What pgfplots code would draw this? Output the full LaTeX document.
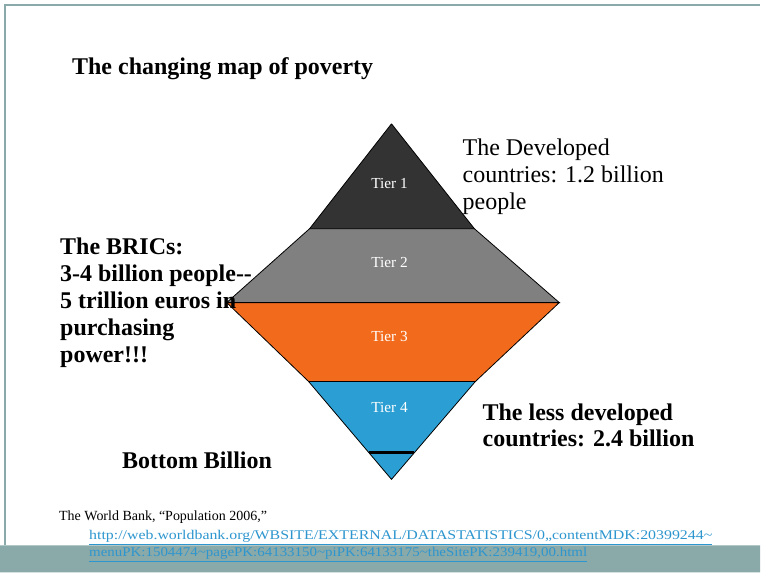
\documentclass[border=0pt]{standalone}
\usepackage{fontspec}
\setmainfont{Liberation Serif}
\usepackage{graphicx}
\usepackage{pgfplots}
\pgfplotsset{compat=1.18}
\definecolor{tierA}{HTML}{333333}
\definecolor{tierB}{HTML}{808080}
\definecolor{tierC}{HTML}{F26B1D}
\definecolor{tierD}{HTML}{2B9FD3}
\definecolor{frame}{HTML}{8AA9A9}
\definecolor{urlblue}{HTML}{2E96CF}
\begin{document}
\begin{tikzpicture}
\begin{axis}[width=570.75pt,height=429.75pt,scale only axis,
  xmin=0,xmax=761,ymin=0,ymax=573,y dir=reverse,hide axis,clip=false]
% background, frame and bottom band
\addplot[fill=white,draw=none] coordinates {(0,0)(761,0)(761,573)(0,573)(0,0)};
\addplot[fill=frame,draw=none] coordinates {(0,546)(761,546)(761,573)(0,573)(0,546)};
\addplot[draw=frame,line width=1.5pt] coordinates {(5,546)(5,5)(761,5)};
% tiers
\addplot[fill=tierA,draw=black,line width=0.6pt] coordinates {(392,124)(475,229)(310,229)(392,124)};
\addplot[fill=tierB,draw=black,line width=0.6pt] coordinates {(310,229)(475,229)(560,303)(227,303)(310,229)};
\addplot[fill=tierC,draw=black,line width=0.6pt] coordinates {(227,303)(560,303)(476,382)(309,382)(227,303)};
\addplot[fill=tierD,draw=black,line width=0.6pt] coordinates {(309,382)(476,382)(392,480)(309,382)};
\addplot[black,line width=2.2pt] coordinates {(369,453)(415,453)};
% tier labels
\node[white,font=\fontsize{11.5}{13}\selectfont] at (axis cs:390,184) {Tier 1};
\node[white,font=\fontsize{11.5}{13}\selectfont] at (axis cs:390,263) {Tier 2};
\node[white,font=\fontsize{11.5}{13}\selectfont] at (axis cs:390,337) {Tier 3};
\node[white,font=\fontsize{11.5}{13}\selectfont] at (axis cs:390,408) {Tier 4};
% title
\node[anchor=base west,inner sep=0pt,font=\fontsize{18}{22}\selectfont\bfseries] at (axis cs:72,75) {The changing map of poverty};
% developed
\node[anchor=base west,inner sep=0pt,font=\fontsize{18}{22}\selectfont] at (axis cs:463,156) {The Developed};
\node[anchor=base west,inner sep=0pt,font=\fontsize{18}{22}\selectfont] at (axis cs:463,183) {countries: 1.2 billion};
\node[anchor=base west,inner sep=0pt,font=\fontsize{18}{22}\selectfont] at (axis cs:463,210) {people};
% BRICs
\node[anchor=base west,inner sep=0pt,font=\fontsize{18}{22}\selectfont\bfseries] at (axis cs:60,255) {The BRICs:};
\node[anchor=base west,inner sep=0pt,font=\fontsize{18}{22}\selectfont\bfseries] at (axis cs:60,282) {3-4 billion people-{}-};
\node[anchor=base west,inner sep=0pt,font=\fontsize{18}{22}\selectfont\bfseries] at (axis cs:60,309) {5 trillion euros in};
\node[anchor=base west,inner sep=0pt,font=\fontsize{18}{22}\selectfont\bfseries] at (axis cs:60,336) {purchasing};
\node[anchor=base west,inner sep=0pt,font=\fontsize{18}{22}\selectfont\bfseries] at (axis cs:60,363) {power!!!};
% less developed
\node[anchor=base west,inner sep=0pt,font=\fontsize{18}{22}\selectfont\bfseries] at (axis cs:483,421) {The less developed};
\node[anchor=base west,inner sep=0pt,font=\fontsize{18}{22}\selectfont\bfseries] at (axis cs:483,447) {countries: 2.4 billion};
% bottom billion
\node[anchor=base west,inner sep=0pt,font=\fontsize{18}{22}\selectfont\bfseries] at (axis cs:122,469) {Bottom Billion};
% source
\node[anchor=base west,inner sep=0pt,font=\fontsize{10.5}{12}\selectfont] at (axis cs:59,521) {The World Bank, “Population 2006,”};
\node[anchor=base west,inner sep=0pt,urlblue,font=\fontsize{10}{12}\selectfont] at (axis cs:89,540) {\resizebox{468pt}{\height}{\underline{http://web.worldbank.org/WBSITE/EXTERNAL/DATASTATISTICS/0,,contentMDK:20399244\textasciitilde}}};
\node[anchor=base west,inner sep=0pt,urlblue,font=\fontsize{10}{12}\selectfont] at (axis cs:89,557) {\resizebox{374pt}{\height}{\underline{menuPK:1504474\textasciitilde pagePK:64133150\textasciitilde piPK:64133175\textasciitilde theSitePK:239419,00.html}}};
\end{axis}
\end{tikzpicture}
\end{document}
